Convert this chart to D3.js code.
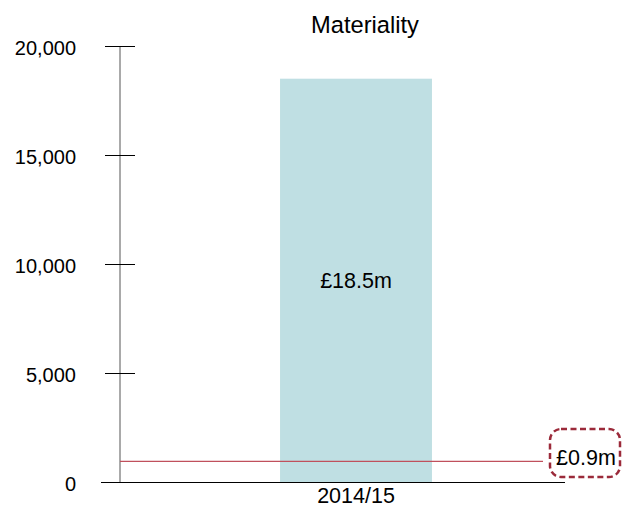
<!DOCTYPE html>
<html><head><meta charset="utf-8">
<script src="https://cdn.jsdelivr.net/npm/d3@7"></script>
<style>body{margin:0;background:#fff}svg{display:block;font-family:"Liberation Sans",Arial,sans-serif}</style>
</head><body>
<script>
const title = "Materiality";
const categories = ["2014/15"];
const values = [18500];
const barLabels = ["£18.5m"];
const thresholdValue = 950;
const thresholdLabel = "£0.9m";
const yTicks = [0, 5000, 10000, 15000, 20000];

const W = 622, H = 508;
const FS = 21.5;
const svg = d3.select("body").append("svg").attr("width", W).attr("height", H);
const y = d3.scaleLinear().domain([0, 20000]).range([482, 46]);
const x = d3.scaleBand().domain(categories).range([120, 592]).paddingInner(0.513).paddingOuter(0.513);

svg.append("text").attr("x", 365).attr("y", 33).attr("text-anchor", "middle")
  .attr("font-size", 23.7).attr("fill", "#000").text(title);

// bars
svg.selectAll("rect.bar").data(values).join("rect").attr("class", "bar")
  .attr("x", (d, i) => x(categories[i])).attr("width", x.bandwidth())
  .attr("y", d => y(d)).attr("height", d => y(0) - y(d)).attr("fill", "#bfdfe3");
svg.selectAll("text.bl").data(values).join("text").attr("class", "bl")
  .attr("x", (d, i) => x(categories[i]) + x.bandwidth() / 2)
  .attr("y", d => y(d / 2) + 7.5).attr("text-anchor", "middle").attr("font-size", FS)
  .text((d, i) => barLabels[i]);

// y axis
const yAxis = svg.append("g").attr("transform", "translate(120,0)")
  .call(d3.axisLeft(y).tickValues(yTicks).tickSize(0).tickPadding(44).tickFormat(d3.format(",")));
yAxis.select(".domain").remove();
yAxis.selectAll("text").attr("font-size", 20).attr("fill", "#000").attr("dy", "0.4em")
  .style("font-family", "Liberation Sans, Arial, sans-serif");
svg.append("line").attr("x1", 120).attr("x2", 120).attr("y1", y(20000)).attr("y2", y(0))
  .attr("stroke", "#555").attr("stroke-width", 1);
svg.selectAll("line.tk").data(yTicks.filter(d => d > 0)).join("line").attr("class", "tk")
  .attr("x1", 105).attr("x2", 135).attr("y1", d => y(d) + 0.5).attr("y2", d => y(d) + 0.5)
  .attr("stroke", "#000");

// threshold
svg.append("line").attr("x1", 120).attr("x2", 543)
  .attr("y1", y(thresholdValue)).attr("y2", y(thresholdValue))
  .attr("stroke", "#c0505c").attr("stroke-width", 1.3);

// x axis
svg.append("line").attr("x1", 101).attr("x2", 565).attr("y1", y(0) + 0.5).attr("y2", y(0) + 0.5)
  .attr("stroke", "#000");
const xAxis = svg.append("g").attr("transform", `translate(0,${y(0)})`)
  .call(d3.axisBottom(x).tickSize(0).tickPadding(6));
xAxis.select(".domain").remove();
xAxis.selectAll("text").attr("font-size", FS).attr("fill", "#000")
  .style("font-family", "Liberation Sans, Arial, sans-serif");

// threshold label box
svg.append("rect").attr("x", 550).attr("y", 429).attr("width", 70).attr("height", 48)
  .attr("rx", 11).attr("fill", "#fff").attr("stroke", "#9b2a3a").attr("stroke-width", 2.5)
  .attr("stroke-dasharray", "6,3.5");
svg.append("text").attr("x", 586).attr("y", 465).attr("text-anchor", "middle")
  .attr("font-size", FS).text(thresholdLabel);
</script>
</body></html>
